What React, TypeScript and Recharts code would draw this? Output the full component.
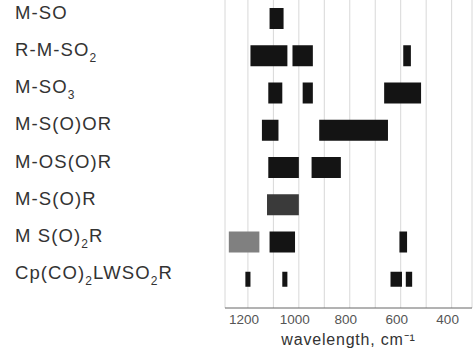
import { Bar, BarChart, CartesianGrid, Cell, XAxis, YAxis } from "recharts";

type Range = [number, number] | null;

// complexes, top to bottom
const complexes = ["M-SO", "R-M-SO2", "M-SO3", "M-S(O)OR", "M-OS(O)R", "M-S(O)R", "M S(O)2R", "Cp(CO)2LWSO2R"];

// absorption ranges, cm-1 (low, high)
const band1: Range[] = [[1060, 1115], [1045, 1190], [1065, 1120], [1080, 1145], [1000, 1120], [1000, 1125], [1155, 1275], [1190, 1210]];
const band2: Range[] = [null, [945, 1025], [945, 985], [650, 920], [835, 950], null, [1015, 1115], [1045, 1065]];
const band3: Range[] = [null, [560, 590], [520, 665], null, null, null, [575, 605], [595, 640]];
const band4: Range[] = [null, null, null, null, null, null, null, [555, 580]];

const xTicks = [1200, 1100, 1000, 900, 800, 700, 600, 500, 400];
const xLabels = [1200, 1000, 800, 600, 400];

const data = complexes.map((name, i) => ({
  name,
  b1: band1[i],
  b2: band2[i],
  b3: band3[i],
  b4: band4[i],
}));

const font = "'Liberation Sans', Arial, sans-serif";
const BAR = 21;

function Chem({ y, payload }: any) {
  const parts = String(payload.value).split(/(\d)/).filter((s) => s !== "");
  return (
    <text x={15} y={y} dy="0.35em" textAnchor="start" fontFamily={font} fontSize={18.5} letterSpacing={1.1} fill="#333">
      {parts.map((p, k) =>
        /\d/.test(p) ? (
          <tspan key={k} dy={6} fontSize={12}>{p}</tspan>
        ) : (
          <tspan key={k} dy={k > 0 && /\d/.test(parts[k - 1]) ? -6 : 0}>{p}</tspan>
        )
      )}
    </text>
  );
}

function RangeBar(props: any) {
  const { x, y, width, height, fill, payload } = props;
  if (width == null || height == null) return null;
  const h = payload.name.startsWith("Cp") ? 15 : height;
  const w = Math.abs(width);
  const left = width < 0 ? x + width : x;
  return <rect x={left} y={y + (height - h) / 2} width={w} height={h} fill={fill} />;
}

const series = ["b1", "b2", "b3", "b4"];

export default function App() {
  return (
    <div style={{ position: "absolute", left: 0, top: 0, background: "#fff" }}>
      <BarChart
        width={473}
        height={361}
        data={data}
        layout="vertical"
        barSize={BAR}
        barGap={-BAR}
        margin={{ top: 0, right: 1, bottom: 0, left: 0 }}
      >
        <CartesianGrid horizontal={false} stroke="#d8d8d8" />
        <XAxis
          type="number"
          domain={[320, 1290]}
          reversed
          ticks={xTicks}
          tickFormatter={(v: number) => (xLabels.includes(v) ? String(v) : "")}
          tickLine={false}
          tickMargin={0}
          dx={-4}
          axisLine={{ stroke: "#666" }}
          height={53}
          tick={{ fontSize: 13.5, fill: "#555", fontFamily: font }}
          label={{ value: "wavelength, cm⁻¹", position: "insideBottom", offset: 16, fontSize: 16, fill: "#333", fontFamily: font, letterSpacing: 0.8 }}
        />
        <YAxis
          type="category"
          dataKey="name"
          width={225}
          axisLine={false}
          tickLine={false}
          tick={<Chem />}
          padding={{ top: 0, bottom: 10 }}
        />
        {series.map((key) => (
          <Bar key={key} dataKey={key} shape={<RangeBar />} isAnimationActive={false}>
            {data.map((d, i) => {
              let fill = "#141414";
              if (d.name === "M-S(O)R") fill = "#3a3a3a";
              if (d.name === "M S(O)2R" && key === "b1") fill = "#808080";
              return <Cell key={i} fill={fill} />;
            })}
          </Bar>
        ))}
      </BarChart>
    </div>
  );
}
